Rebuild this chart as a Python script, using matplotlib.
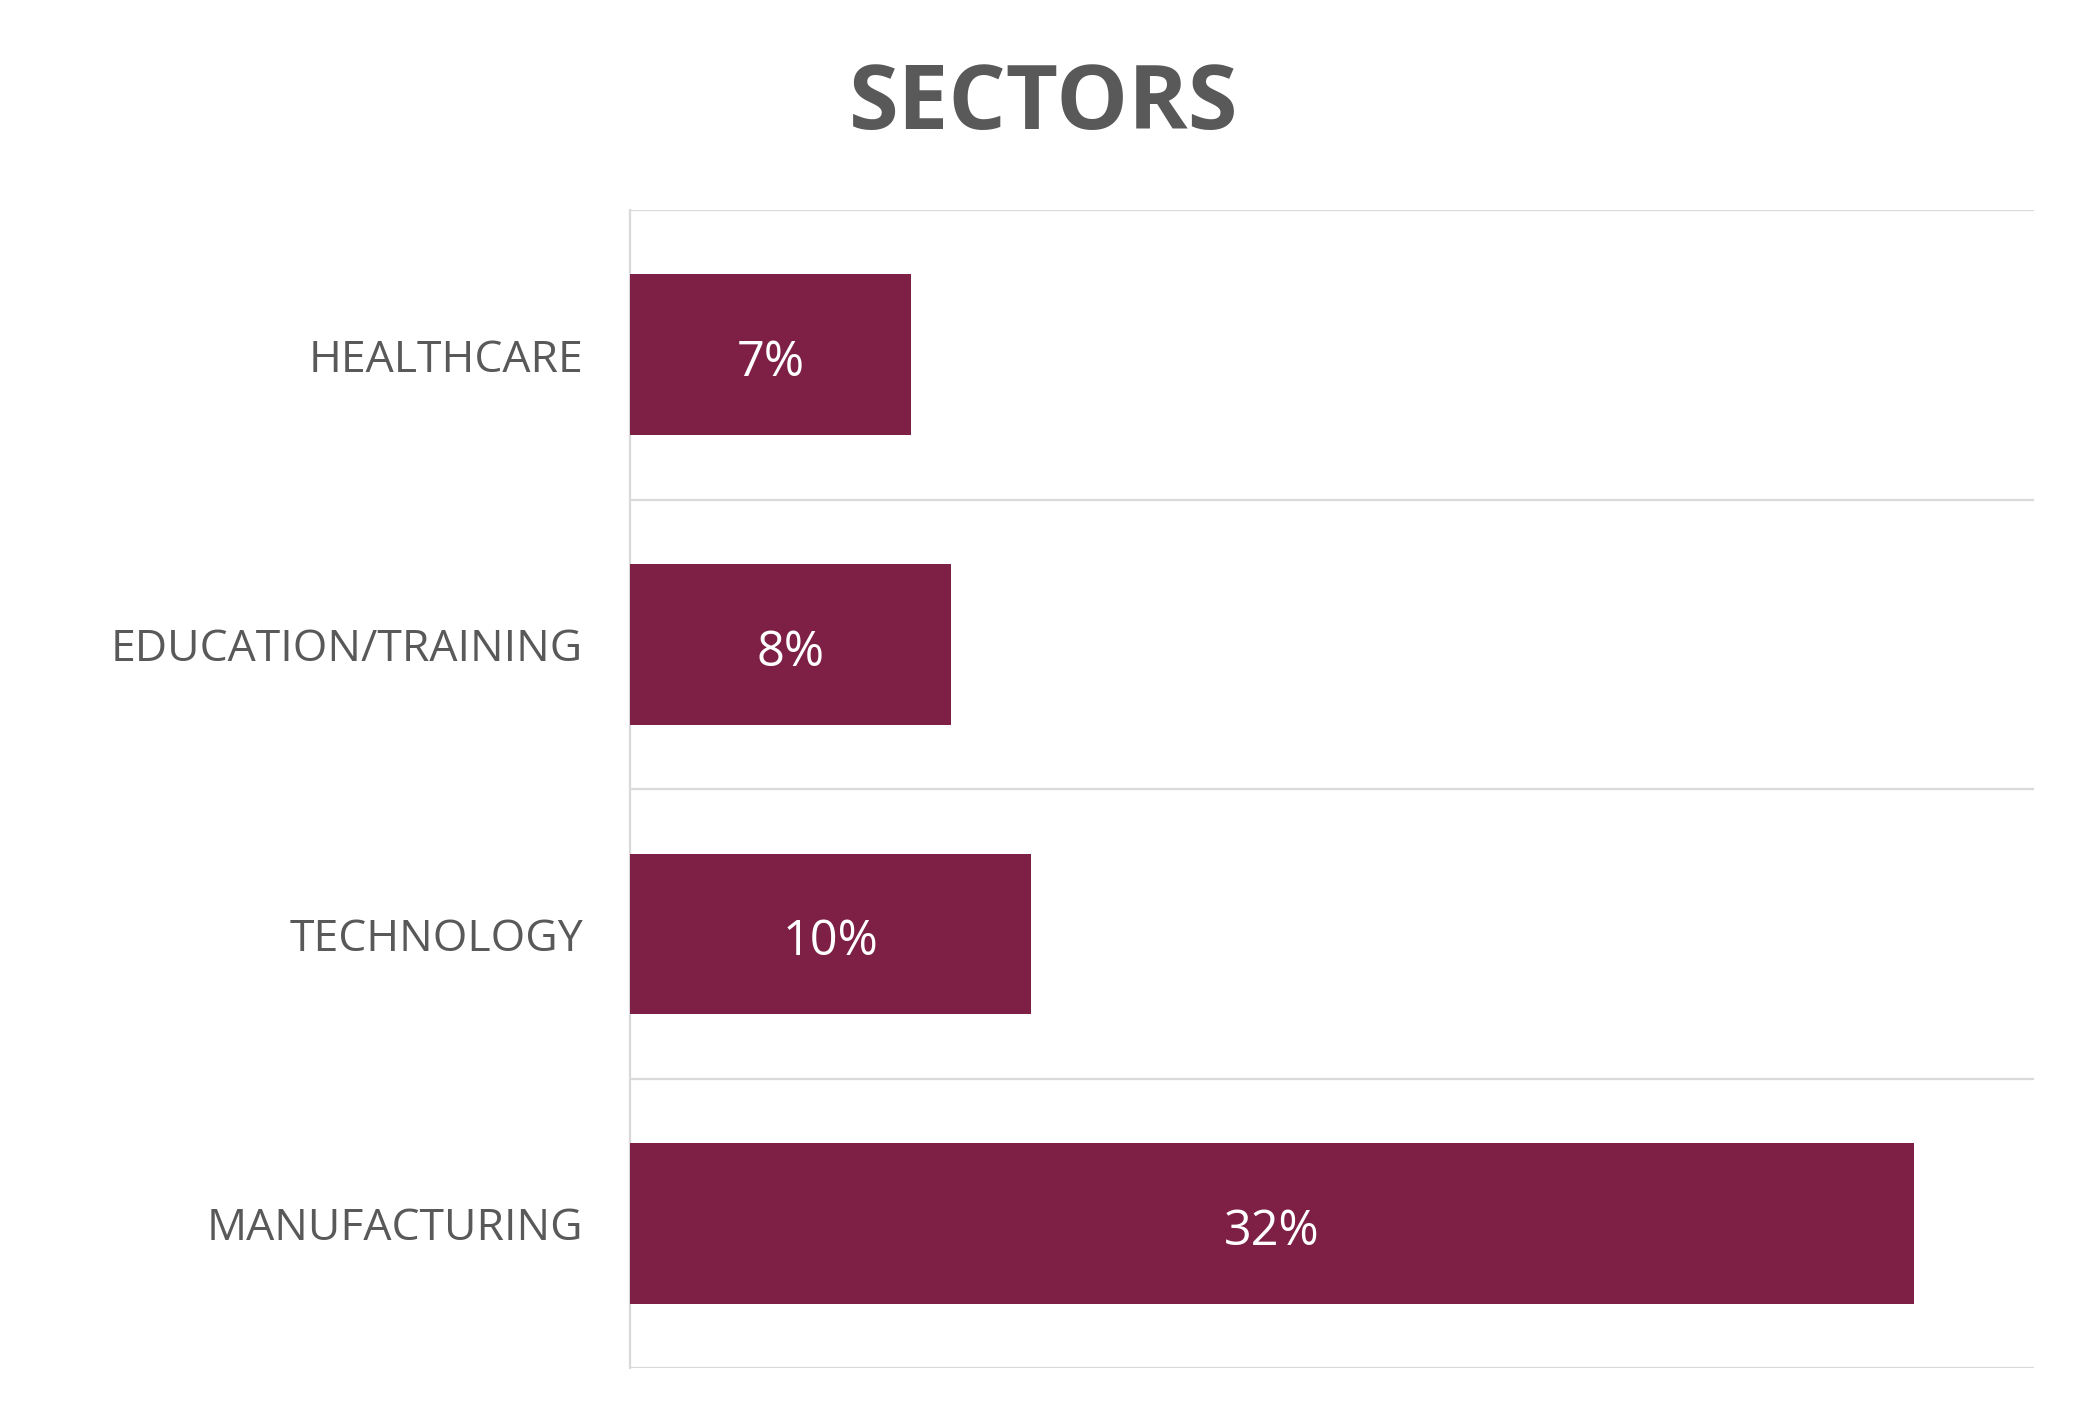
import matplotlib
matplotlib.use("Agg")
import matplotlib.pyplot as plt
import numpy as np

categories = ["HEALTHCARE", "EDUCATION/TRAINING", "TECHNOLOGY", "MANUFACTURING"]
values = [7, 8, 10, 32]
value_labels = ["7%", "8%", "10%", "32%"]
title = "SECTORS"

bar_color = "#7E1F45"
text_color = "#595959"
grid_color = "#D9D9D9"

fig = plt.figure(figsize=(20.83, 14.19), dpi=100)
ax = fig.add_axes([0.3025, 0.0356, 0.674, 0.8164])

n = len(categories)
ypos = np.arange(n)[::-1]  # first category on top
ax.barh(ypos, values, height=0.555, color=bar_color, zorder=3)

ax.set_xlim(0, 35)
ax.set_ylim(-0.5, n - 0.5)

# category separator lines
for b in np.arange(-0.5, n, 1.0):
    ax.axhline(b, color=grid_color, lw=1.6, zorder=1)

for s in ["top", "right", "bottom"]:
    ax.spines[s].set_visible(False)
ax.spines["left"].set_color(grid_color)
ax.spines["left"].set_linewidth(1.6)

ax.set_xticks([])
ax.set_yticks(ypos)
ax.set_yticklabels(categories, fontfamily="Open Sans", fontsize=32,
                   color=text_color)
ax.tick_params(axis="y", length=0, pad=34)

for y, v, lab in zip(ypos, values, value_labels):
    ax.text(v / 2, y - 0.03, lab, ha="center", va="center", color="white",
            fontfamily="Open Sans", fontsize=35, zorder=4)

fig.text(0.501, 0.909, title, ha="center", va="baseline", color=text_color,
         fontfamily="Open Sans", fontweight="bold", fontsize=65)

fig.savefig("out.png", dpi=100, facecolor="white")
